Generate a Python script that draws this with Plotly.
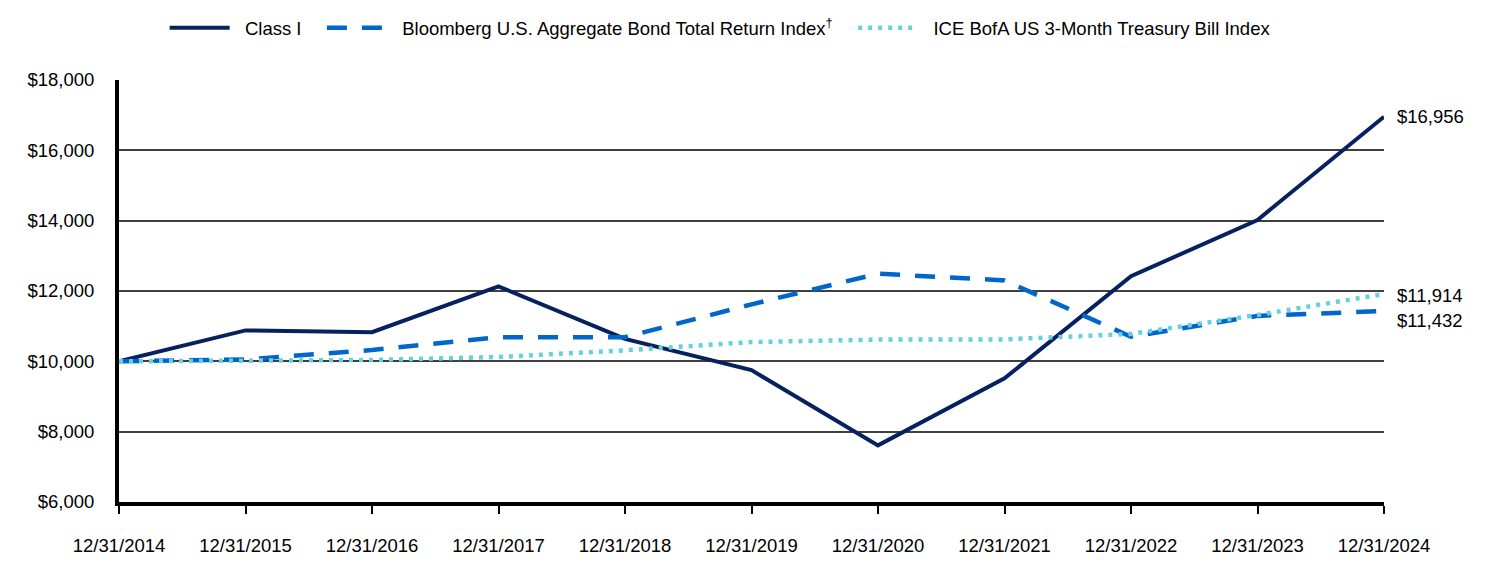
import plotly.graph_objects as go

dates = ["12/31/2014", "12/31/2015", "12/31/2016", "12/31/2017", "12/31/2018", "12/31/2019",
         "12/31/2020", "12/31/2021", "12/31/2022", "12/31/2023", "12/31/2024"]
class_i = [10000, 10880, 10830, 12130, 10640, 9750, 7610, 9515, 12420, 14020, 16956]
bloomberg = [10000, 10055, 10321, 10687, 10688, 11620, 12493, 12301, 10700, 11292, 11432]
ice = [10000, 10005, 10038, 10124, 10313, 10548, 10619, 10624, 10779, 11319, 11914]

names = ["Class I", "Bloomberg U.S. Aggregate Bond Total Return Index<sup>†</sup>",
         "ICE BofA US 3-Month Treasury Bill Index"]
y_ticks = [6000, 8000, 10000, 12000, 14000, 16000, 18000]
y_ticktext = ["$6,000", "$8,000", "$10,000", "$12,000", "$14,000", "$16,000", "$18,000"]
end_labels = ["$16,956", "$11,914", "$11,432"]

FONT = "Liberation Sans, Arial, sans-serif"
FS = 18.5
x_idx = list(range(len(dates)))
pad_l = "\u00a0\u00a0"
pad_r = "\u00a0\u00a0\u00a0"

fig = go.Figure()
fig.add_trace(go.Scatter(x=x_idx, y=class_i, name=pad_l + names[0] + pad_r, mode="lines",
                         line=dict(color="#07215f", width=4)))
fig.add_trace(go.Scatter(x=x_idx, y=bloomberg, name=pad_l + names[1] + pad_r, mode="lines",
                         line=dict(color="#0066cc", width=4.5, dash="20px,15px")))
fig.add_trace(go.Scatter(x=x_idx, y=ice, name=pad_l + names[2], mode="lines",
                         line=dict(color="#66d0df", width=4.5, dash="4px,6px")))

# end labels
shifts = [0, -1, -10]
for val, txt, sh in zip([class_i[-1], ice[-1], bloomberg[-1]], end_labels, shifts):
    fig.add_annotation(x=x_idx[-1], y=val, text=txt, xref="x", yref="y", showarrow=False,
                       xanchor="left", xshift=11, yshift=sh,
                       font=dict(family=FONT, size=FS, color="#000000"))

fig.update_layout(
    width=1512, height=588,
    margin=dict(l=111, r=136, t=72, b=94),
    paper_bgcolor="white", plot_bgcolor="white",
    font=dict(family=FONT, size=FS, color="#000000"),
    showlegend=True,
    legend=dict(orientation="h", x=0.471, xanchor="center", xref="container",
                y=0.998, yanchor="top", yref="container", itemwidth=60,
                font=dict(size=FS, family=FONT), traceorder="normal"),
    xaxis=dict(range=[0, 10], tickmode="array", tickvals=x_idx, ticktext=dates,
               showgrid=False, zeroline=False, showline=True, linecolor="#000000", linewidth=4,
               ticks="outside", ticklen=8, tickwidth=2, tickcolor="#000000", automargin=False,
               ticklabelstandoff=16, tickfont=dict(size=FS, family=FONT)),
    yaxis=dict(range=[6000, 18000], tickmode="array", tickvals=y_ticks, ticktext=y_ticktext,
               showgrid=True, gridcolor="#404040", gridwidth=2, zeroline=False, automargin=False,
               showline=True, linecolor="#000000", linewidth=4, ticks="",
               ticklabelstandoff=17, tickfont=dict(size=FS, family=FONT)),
)

fig.write_html("out.html")
